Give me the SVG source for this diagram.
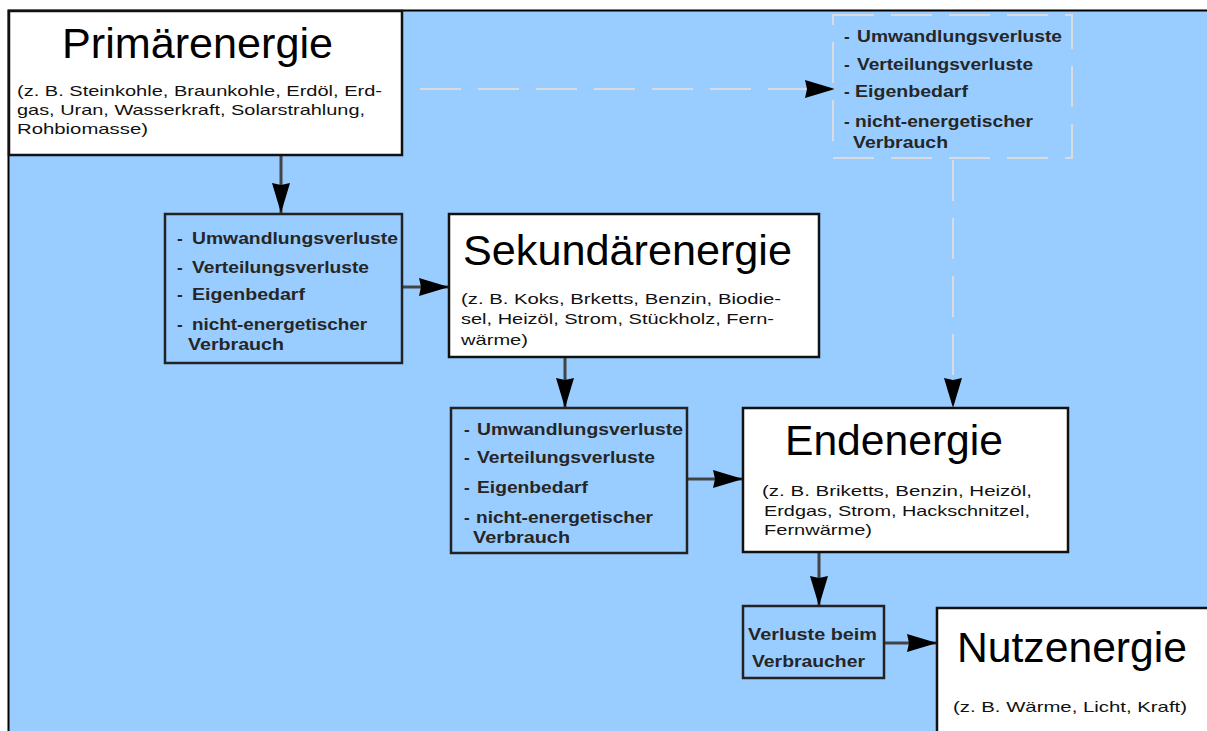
<svg xmlns="http://www.w3.org/2000/svg" width="1207" height="731" viewBox="0 0 1207 731">
<style>
.title{font-family:"Liberation Sans",Arial,sans-serif;font-size:43px;fill:#000}
.sub{font-family:"Liberation Sans",Arial,sans-serif;font-size:15px;fill:#111}
.ls{font-family:"Liberation Sans",Arial,sans-serif;font-size:17px;font-weight:bold;fill:#262626}
.box{fill:#fff;stroke:#111;stroke-width:2.5}
.loss{fill:none;stroke:#222;stroke-width:2.5}
.dbox{fill:none;stroke:#d8dce0;stroke-width:2;stroke-dasharray:41 17}
.conn{stroke:#444;stroke-width:3;fill:none}
.dash{stroke:#d8dce0;stroke-width:2;fill:none;stroke-dasharray:41 17}
</style>
<defs>
<marker id="ah" markerUnits="userSpaceOnUse" markerWidth="30" markerHeight="18" refX="30" refY="9" orient="auto">
<path d="M0,0 L30,9 L0,18 L2,9 z" fill="#000"/>
</marker>
</defs>
<rect x="0" y="0" width="1207" height="731" fill="#fff"/>
<rect x="9" y="11" width="1198" height="720" fill="#99CCFF"/>
<path d="M8.5,731 V10.5 H1207" stroke="#000" stroke-width="2" fill="none"/>

<g id="connectors">
<line class="conn" x1="281" y1="155" x2="281" y2="213" marker-end="url(#ah)"/>
<line class="conn" x1="402" y1="287" x2="449" y2="287" marker-end="url(#ah)"/>
<line class="conn" x1="565" y1="357" x2="565" y2="408" marker-end="url(#ah)"/>
<line class="conn" x1="687" y1="479" x2="743" y2="479" marker-end="url(#ah)"/>
<line class="conn" x1="819" y1="552" x2="819" y2="606" marker-end="url(#ah)"/>
<line class="conn" x1="884" y1="643" x2="937" y2="643" marker-end="url(#ah)"/>
<line class="dash" x1="420" y1="89" x2="835" y2="89" marker-end="url(#ah)"/>
<line class="dash" x1="953" y1="160" x2="953" y2="408" marker-end="url(#ah)"/>
</g>

<g id="primaerenergie">
<rect class="box" x="9" y="11" width="393" height="144"/>
<text class="title" x="62" y="58" textLength="271" lengthAdjust="spacingAndGlyphs">Primärenergie</text>
<text class="sub" x="17" y="96" textLength="365" lengthAdjust="spacingAndGlyphs">(z. B. Steinkohle, Braunkohle, Erdöl, Erd-</text>
<text class="sub" x="17" y="115" textLength="348" lengthAdjust="spacingAndGlyphs">gas, Uran, Wasserkraft, Solarstrahlung,</text>
<text class="sub" x="17" y="134" textLength="131" lengthAdjust="spacingAndGlyphs">Rohbiomasse)</text>
</g>

<g id="verluste1">
<rect class="loss" x="165" y="214" width="237" height="149"/>
<text class="ls" x="177" y="244">-</text>
<text class="ls" x="192" y="244" textLength="206" lengthAdjust="spacingAndGlyphs">Umwandlungsverluste</text>
<text class="ls" x="177" y="273">-</text>
<text class="ls" x="192" y="273" textLength="177" lengthAdjust="spacingAndGlyphs">Verteilungsverluste</text>
<text class="ls" x="177" y="300">-</text>
<text class="ls" x="192" y="300" textLength="113" lengthAdjust="spacingAndGlyphs">Eigenbedarf</text>
<text class="ls" x="177" y="330">-</text>
<text class="ls" x="192" y="330" textLength="175" lengthAdjust="spacingAndGlyphs">nicht-energetischer</text>
<text class="ls" x="188" y="350" textLength="96" lengthAdjust="spacingAndGlyphs">Verbrauch</text>
</g>

<g id="sekundaerenergie">
<rect class="box" x="449" y="214" width="370" height="143"/>
<text class="title" x="463" y="265" textLength="329" lengthAdjust="spacingAndGlyphs">Sekundärenergie</text>
<text class="sub" x="461" y="304" textLength="320" lengthAdjust="spacingAndGlyphs">(z. B. Koks, Brketts, Benzin, Biodie-</text>
<text class="sub" x="461" y="324" textLength="313" lengthAdjust="spacingAndGlyphs">sel, Heizöl, Strom, Stückholz, Fern-</text>
<text class="sub" x="461" y="345" textLength="67" lengthAdjust="spacingAndGlyphs">wärme)</text>
</g>

<g id="verluste2">
<rect class="loss" x="451" y="408" width="236" height="145"/>
<text class="ls" x="464" y="435">-</text>
<text class="ls" x="477" y="435" textLength="206" lengthAdjust="spacingAndGlyphs">Umwandlungsverluste</text>
<text class="ls" x="464" y="463">-</text>
<text class="ls" x="477" y="463" textLength="178" lengthAdjust="spacingAndGlyphs">Verteilungsverluste</text>
<text class="ls" x="464" y="493">-</text>
<text class="ls" x="477" y="493" textLength="111" lengthAdjust="spacingAndGlyphs">Eigenbedarf</text>
<text class="ls" x="464" y="523">-</text>
<text class="ls" x="476" y="523" textLength="177" lengthAdjust="spacingAndGlyphs">nicht-energetischer</text>
<text class="ls" x="473" y="543" textLength="97" lengthAdjust="spacingAndGlyphs">Verbrauch</text>
</g>

<g id="endenergie">
<rect class="box" x="743" y="408" width="325" height="144"/>
<text class="title" x="785" y="455" textLength="218" lengthAdjust="spacingAndGlyphs">Endenergie</text>
<text class="sub" x="762" y="496" textLength="270" lengthAdjust="spacingAndGlyphs">(z. B.  Briketts, Benzin, Heizöl,</text>
<text class="sub" x="764" y="516" textLength="266" lengthAdjust="spacingAndGlyphs">Erdgas, Strom, Hackschnitzel,</text>
<text class="sub" x="764" y="535" textLength="108" lengthAdjust="spacingAndGlyphs">Fernwärme)</text>
</g>

<g id="verluste-verbraucher">
<rect class="loss" x="743" y="606" width="141" height="72"/>
<text class="ls" x="748" y="640" textLength="129" lengthAdjust="spacingAndGlyphs">Verluste beim</text>
<text class="ls" x="752" y="667" textLength="113" lengthAdjust="spacingAndGlyphs">Verbraucher</text>
</g>

<g id="nutzenergie">
<rect class="box" x="937" y="608" width="290" height="140"/>
<text class="title" x="957" y="662" textLength="230" lengthAdjust="spacingAndGlyphs">Nutzenergie</text>
<text class="sub" x="953" y="712" font-size="14" textLength="234" lengthAdjust="spacingAndGlyphs">(z. B. Wärme, Licht, Kraft)</text>
</g>

<g id="verluste-primaer">
<rect class="dbox" x="833" y="15" width="239" height="143"/>
<text class="ls" x="844" y="42">-</text>
<text class="ls" x="857" y="42" textLength="205" lengthAdjust="spacingAndGlyphs">Umwandlungsverluste</text>
<text class="ls" x="844" y="70">-</text>
<text class="ls" x="857" y="70" textLength="176" lengthAdjust="spacingAndGlyphs">Verteilungsverluste</text>
<text class="ls" x="844" y="97">-</text>
<text class="ls" x="855" y="97" textLength="113" lengthAdjust="spacingAndGlyphs">Eigenbedarf</text>
<text class="ls" x="844" y="127">-</text>
<text class="ls" x="855" y="127" textLength="178" lengthAdjust="spacingAndGlyphs">nicht-energetischer</text>
<text class="ls" x="853" y="148" textLength="95" lengthAdjust="spacingAndGlyphs">Verbrauch</text>
</g>
</svg>
